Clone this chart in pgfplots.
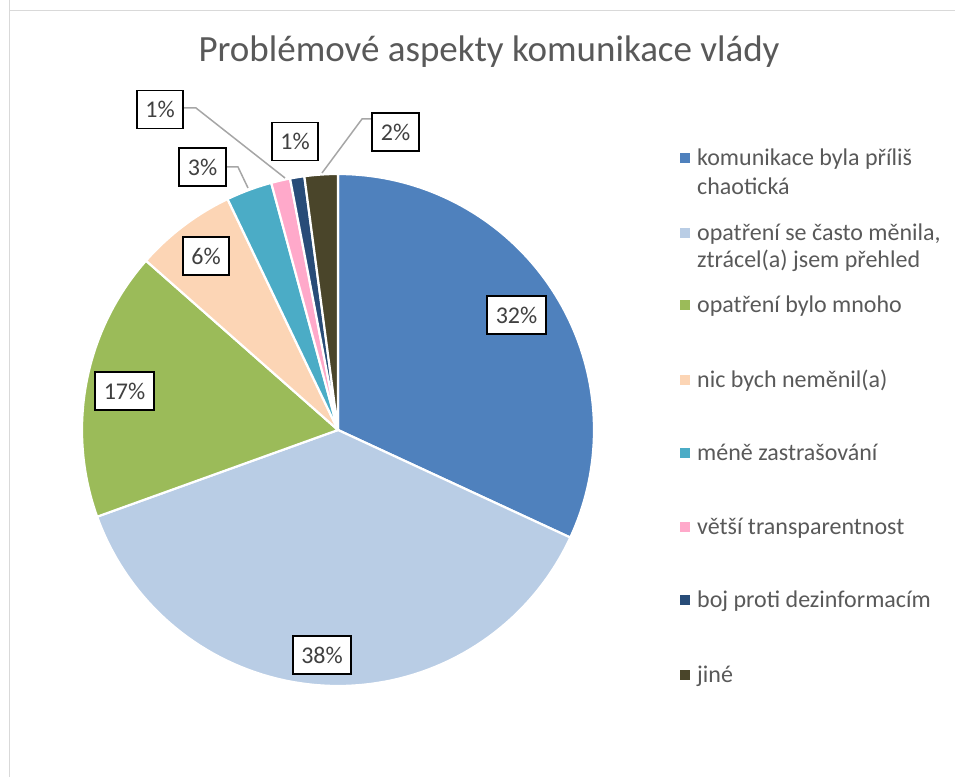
\documentclass[border=0pt]{standalone}
\usepackage{pgfplots}
\pgfplotsset{compat=1.18}
\usepackage{pgfplotstable}
\usepackage{fontspec}
\setmainfont{Carlito}

\definecolor{cA}{HTML}{4F81BD}
\definecolor{cB}{HTML}{B9CDE5}
\definecolor{cC}{HTML}{9BBB59}
\definecolor{cD}{HTML}{FCD5B5}
\definecolor{cE}{HTML}{4BACC6}
\definecolor{cF}{HTML}{FFA9CA}
\definecolor{cG}{HTML}{284C78}
\definecolor{cH}{HTML}{4A452A}
\definecolor{txt}{HTML}{595959}
\definecolor{lbl}{HTML}{404040}
\definecolor{frame}{HTML}{D9D9D9}
\definecolor{lead}{HTML}{A6A6A6}

\pgfplotstableread{
value colour
31.9 cA
37.6 cB
17.0 cC
6.4  cD
2.9  cE
1.2  cF
0.9  cG
2.1  cH
}\piedata

\begin{document}
\begin{tikzpicture}[x=1pt,y=1pt]
\useasboundingbox (0,0) rectangle (955,776);
\draw[frame, line width=1.8pt] (9.5,800) -- (9.5,765.5) -- (980,765.5);
\draw[frame, line width=1.8pt] (9.5,765.5) -- (9.5,-20);

\begin{axis}[
  at={(82pt,90pt)}, anchor=south west,
  scale only axis, width=512pt, height=512pt,
  xmin=-1, xmax=1, ymin=-1, ymax=1,
  hide axis, clip=false,
]
\def\cum{0}
\pgfplotsforeachungrouped \i in {0,...,7}{%
  \pgfplotstablegetelem{\i}{value}\of\piedata
  \let\v=\pgfplotsretval
  \pgfplotstablegetelem{\i}{colour}\of\piedata
  \let\c=\pgfplotsretval
  \pgfmathsetmacro\a{90-3.6*\cum}%
  \pgfmathsetmacro\cum{\cum+\v}%
  \pgfmathsetmacro\b{90-3.6*\cum}%
  \edef\tmp{\noexpand\addplot[fill=\c, draw=white, line width=2.2pt, line join=round,
     domain=\b:\a, samples=80, variable=\noexpand\t]
     ({cos(\noexpand\t)},{sin(\noexpand\t)}) -- (axis cs:0,0) -- cycle;}%
  \tmp
}
\end{axis}

% title
\node[anchor=base, text=txt, font=\fontsize{37}{44}\selectfont] at (489,714) {Problémové aspekty komunikace vlády};

% leader lines
\draw[lead, line width=1.5pt] (184,668) -- (196,668) -- (285,598);
\draw[lead, line width=1.5pt] (227,609) -- (238,609) -- (248,588);
\draw[lead, line width=1.5pt] (372,657) -- (362,657) -- (322,603);

% data labels
\tikzset{dl/.style={draw=black, line width=1.8pt, fill=white, text=lbl,
   font=\fontsize{24}{29}\selectfont, inner xsep=8.5pt, minimum height=38pt}}
\node[dl] at (516.5,461) {32\%};
\node[dl] at (322,121) {38\%};
\node[dl] at (124.5,385) {17\%};
\node[dl] at (206,520) {6\%};
\node[dl] at (202.5,609) {3\%};
\node[dl] at (160,666.5) {1\%};
\node[dl] at (295,634.5) {1\%};
\node[dl] at (395.5,644) {2\%};

% legend
\tikzset{lt/.style={anchor=base west, text=txt, inner sep=0pt, font=\fontsize{24}{29}\selectfont}}
\newcommand\legsq[2]{\fill[#1] (680,#2+3) rectangle (690,#2+13);}
\legsq{cA}{610}
\node[lt] at (697,610) {komunikace byla příliš};
\node[lt] at (697,581) {chaotická};
\legsq{cB}{535}
\node[lt] at (697,535) {opatření se často měnila,};
\node[lt] at (697,508) {ztrácel(a) jsem přehled};
\legsq{cC}{463}
\node[lt] at (697,463) {opatření bylo mnoho};
\legsq{cD}{388}
\node[lt] at (697,388) {nic bych neměnil(a)};
\legsq{cE}{315}
\node[lt] at (697,315) {méně zastrašování};
\legsq{cF}{241}
\node[lt] at (697,241) {větší transparentnost};
\legsq{cG}{168}
\node[lt] at (697,168) {boj proti dezinformacím};
\legsq{cH}{93}
\node[lt] at (697,93) {jiné};
\end{tikzpicture}
\end{document}
